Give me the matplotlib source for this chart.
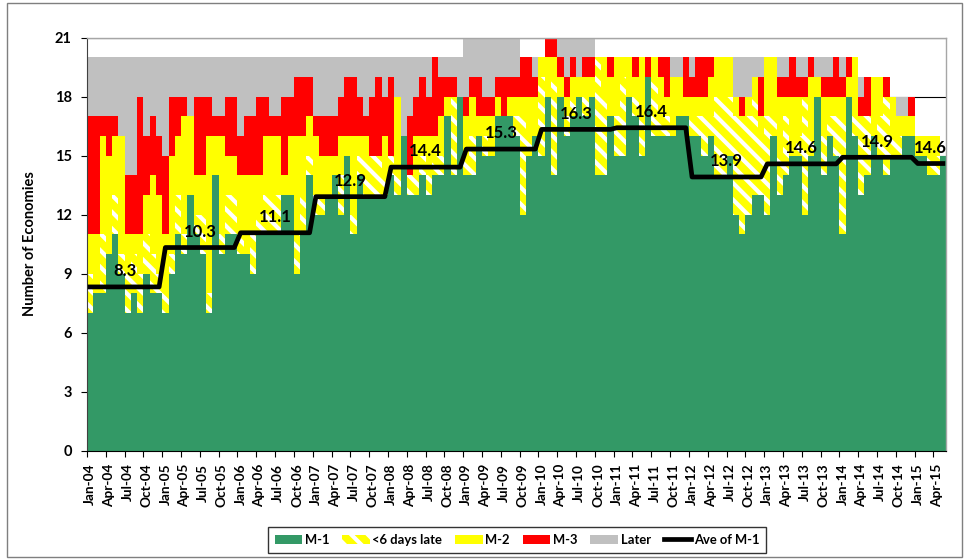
import numpy as np
import pandas as pd
import matplotlib
matplotlib.use("Agg")
import matplotlib.pyplot as plt
from matplotlib.patches import Patch, Rectangle
from matplotlib.lines import Line2D

# ---------------- data ----------------
months = [d.strftime("%b-%y") for d in pd.date_range("2004-01-01", "2015-05-01", freq="MS")]

m1 = [7, 8, 8, 10, 11, 9, 7, 8, 7, 9, 8, 8,            # 2004
      7, 9, 11, 10, 13, 11, 10, 7, 14, 10, 11, 11,      # 2005
      10, 10, 9, 11, 11, 11, 11, 13, 13, 9, 11, 14,     # 2006
      12, 12, 13, 14, 12, 15, 11, 14, 13, 13, 13, 13,   # 2007
      14, 13, 16, 13, 13, 14, 13, 14, 14, 17, 14, 18,   # 2008
      14, 14, 16, 15, 15, 17, 17, 17, 16, 12, 15, 16,   # 2009
      15, 18, 14, 18, 16, 17, 18, 17, 18, 14, 14, 17,   # 2010
      15, 15, 18, 17, 15, 19, 16, 16, 16, 16, 17, 17,   # 2011
      16, 16, 15, 16, 14, 14, 15, 12, 11, 12, 13, 13,   # 2012
      12, 16, 13, 14, 15, 15, 12, 15, 18, 14, 16, 15,   # 2013
      11, 18, 16, 13, 14, 16, 15, 14, 15, 15, 16, 16,   # 2014
      15, 15, 14, 14, 15]                               # 2015

late6 = [2, 0, 3, 0, 2, 1, 2, 2, 2, 2, 2, 1,
         1, 1, 2, 1, 0, 1, 2, 1, 0, 1, 2, 2,
         1, 0, 2, 1, 2, 2, 2, 0, 0, 2, 2, 1,
         1, 1, 0, 0, 2, 0, 1, 1, 2, 2, 2, 1,
         1, 1, 0, 1, 1, 1, 1, 1, 1, 0, 4, 0,
         1, 2, 0, 1, 0, 0, 0, 0, 1, 5, 1, 0,
         4, 0, 5, 0, 1, 1, 0, 1, 0, 6, 4, 0,
         2, 4, 0, 1, 2, 0, 3, 1, 1, 0, 0, 0,
         1, 1, 2, 1, 4, 4, 3, 5, 6, 5, 5, 3,
         5, 1, 2, 3, 0, 1, 6, 1, 0, 2, 1, 2,
         6, 0, 1, 4, 3, 0, 2, 4, 1, 1, 0, 0,
         0, 0, 1, 1, 0]

m2 = [2, 3, 5, 5, 3, 6, 2, 1, 2, 2, 4, 4,
      3, 5, 3, 6, 4, 2, 2, 8, 2, 5, 2, 2,
      3, 4, 3, 2, 3, 3, 3, 1, 3, 5, 3, 2,
      3, 2, 2, 1, 2, 1, 4, 1, 1, 0, 0, 2,
      0, 4, 0, 0, 2, 1, 2, 1, 2, 1, 0, 0,
      2, 2, 1, 1, 2, 1, 0, 1, 1, 1, 2, 2,
      1, 2, 1, 1, 1, 1, 1, 1, 1, 0, 2, 2,
      3, 1, 2, 1, 3, 0, 1, 2, 1, 3, 2, 1,
      1, 1, 1, 2, 2, 2, 2, 1, 0, 1, 1, 1,
      3, 3, 3, 1, 3, 2, 0, 3, 1, 2, 1, 1,
      1, 1, 3, 0, 0, 3, 2, 0, 2, 1, 1, 1,
      1, 1, 1, 1, 0]

m3 = [6, 6, 1, 2, 1, 0, 3, 3, 7, 3, 3, 3,
      4, 3, 2, 1, 0, 4, 4, 2, 1, 1, 3, 3,
      2, 3, 3, 4, 2, 1, 1, 4, 2, 3, 3, 2,
      1, 2, 2, 2, 2, 3, 3, 2, 1, 3, 4, 2,
      4, 0, 0, 3, 2, 3, 2, 4, 2, 1, 1, 0,
      1, 1, 2, 1, 1, 1, 2, 1, 1, 2, 2, 1,
      0, 1, 1, 1, 1, 1, 0, 1, 1, 0, 0, 1,
      0, 0, 0, 1, 0, 1, 0, 1, 2, 0, 0, 2,
      1, 2, 2, 1, 0, 0, 0, 0, 1, 0, 0, 2,
      0, 0, 1, 1, 2, 1, 1, 1, 0, 1, 1, 2,
      1, 1, 0, 1, 2, 0, 0, 1, 0, 0, 0, 1,
      0, 0, 0, 0, 0]

later = [3, 3, 3, 3, 3, 4, 6, 6, 2, 4, 3, 4,
         5, 2, 2, 2, 3, 2, 2, 2, 3, 3, 2, 2,
         4, 3, 3, 2, 2, 3, 3, 2, 2, 1, 1, 1,
         3, 3, 3, 3, 2, 1, 1, 2, 3, 2, 1, 2,
         1, 2, 4, 3, 2, 1, 2, 0, 1, 1, 1, 2,
         3, 2, 2, 3, 3, 2, 2, 2, 2, 0, 0, 1,
         0, 0, 0, 1, 2, 1, 2, 1, 1, 0, 0, 0,
         0, 0, 0, 0, 0, 0, 0, 0, 0, 1, 1, 0,
         1, 0, 0, 0, 0, 0, 0, 2, 2, 2, 1, 1,
         0, 0, 1, 1, 0, 1, 1, 0, 1, 1, 1, 0,
         1, 0, 0, 1, 0, 0, 0, 0, 0, 1, 1, 0,
         0, 0, 0, 0, 0]

# ---------------- derived ----------------
n = len(months)
x = np.arange(n)
m1a = np.array(m1, float)
years = np.array([int(m[-2:]) for m in months])
avg_per_bar = np.zeros(n)
year_centers, year_avgs = [], []
for yv in np.unique(years):
    idx = np.where(years == yv)[0]
    a = m1a[idx].mean()
    avg_per_bar[idx] = a
    year_centers.append(idx.mean() + 0.5)
    year_avgs.append(a)

# ---------------- style ----------------
plt.rcParams['font.family'] = ['Lato', 'DejaVu Sans']
plt.rcParams['hatch.linewidth'] = 3.0

GREEN = '#339966'
YELLOW = '#FFFF00'
RED = '#FF0000'
GRAY = '#C0C0C0'

fig = plt.figure(figsize=(9.67, 5.60), dpi=100)
W, H = 967, 560
ax = fig.add_axes([87 / W, 1 - 451 / H, (946 - 87) / W, (451 - 37.5) / H])

bottom = np.zeros(n)
layers = [(m1, dict(color=GREEN)),
          (late6, dict(color=YELLOW, edgecolor='white', hatch='\\\\')),
          (m2, dict(color=YELLOW)),
          (m3, dict(color=RED)),
          (later, dict(color=GRAY))]
for vals, kw in layers:
    v = np.array(vals, float)
    ax.bar(x, v, bottom=bottom, width=1.0, align='edge', linewidth=0, zorder=2, **kw)
    bottom += v

ax.plot(x + 0.5, avg_per_bar, color='black', lw=3.4, zorder=4)
for xc, a in zip(year_centers, year_avgs):
    ax.text(xc, a + 0.8, f'{a:.1f}', ha='center', va='center', fontsize=12,
            fontweight='bold', zorder=5)

ax.set_xlim(0, n)
ax.set_ylim(0, 21)
ax.set_yticks(range(0, 22, 3))
ax.yaxis.grid(True, color='black', lw=0.8, zorder=0)
ax.set_axisbelow(True)

ax.set_xticks(x[::3] + 0.5)
ax.set_xticklabels([months[i] for i in range(0, n, 3)], rotation=90, fontsize=9.8,
                   fontweight='bold')
ax.set_xticks(np.arange(0, n, 3), minor=True)
ax.tick_params(axis='x', which='major', length=0, pad=9)
ax.tick_params(axis='x', which='minor', length=4, width=0.8, direction='out')
ax.tick_params(axis='y', length=4, width=0.8, direction='out', pad=7)
for lab in ax.get_yticklabels():
    lab.set_fontweight('bold')
    lab.set_fontsize(10.5)

for s in ['top', 'right']:
    ax.spines[s].set_color('#A6A6A6')
    ax.spines[s].set_linewidth(1)
ax.spines['left'].set_color('#404040')
ax.spines['bottom'].set_color('black')

fig.text(30 / W, 1 - 244 / H, 'Number of Economies', rotation=90, ha='center',
         va='center', fontsize=10.5, fontweight='bold')

handles = [Patch(facecolor=GREEN, edgecolor='none'),
           Patch(facecolor=YELLOW, edgecolor='white', hatch='\\\\', lw=0),
           Patch(facecolor=YELLOW, edgecolor='none'),
           Patch(facecolor=RED, edgecolor='none'),
           Patch(facecolor=GRAY, edgecolor='none'),
           Line2D([0], [0], color='black', lw=3.4)]
labels = ['M-1', '<6 days late', 'M-2', 'M-3', 'Later', 'Ave of M-1']
leg = fig.legend(handles, labels, loc='center', bbox_to_anchor=(517 / W, 1 - 540 / H),
                 ncol=6, frameon=True, fancybox=False, edgecolor='black',
                 prop={'weight': 'bold', 'size': 9.4}, handlelength=2.1,
                 handleheight=0.7, handletextpad=0.2, columnspacing=1.0,
                 borderpad=0.5)
leg.get_frame().set_linewidth(1.0)

fig.patches.append(Rectangle((7 / W, 3 / H), (962 - 7) / W, (557 - 3) / H,
                             transform=fig.transFigure, fill=False,
                             edgecolor='#7F7F7F', lw=1))

fig.savefig('out.png', dpi=100)
